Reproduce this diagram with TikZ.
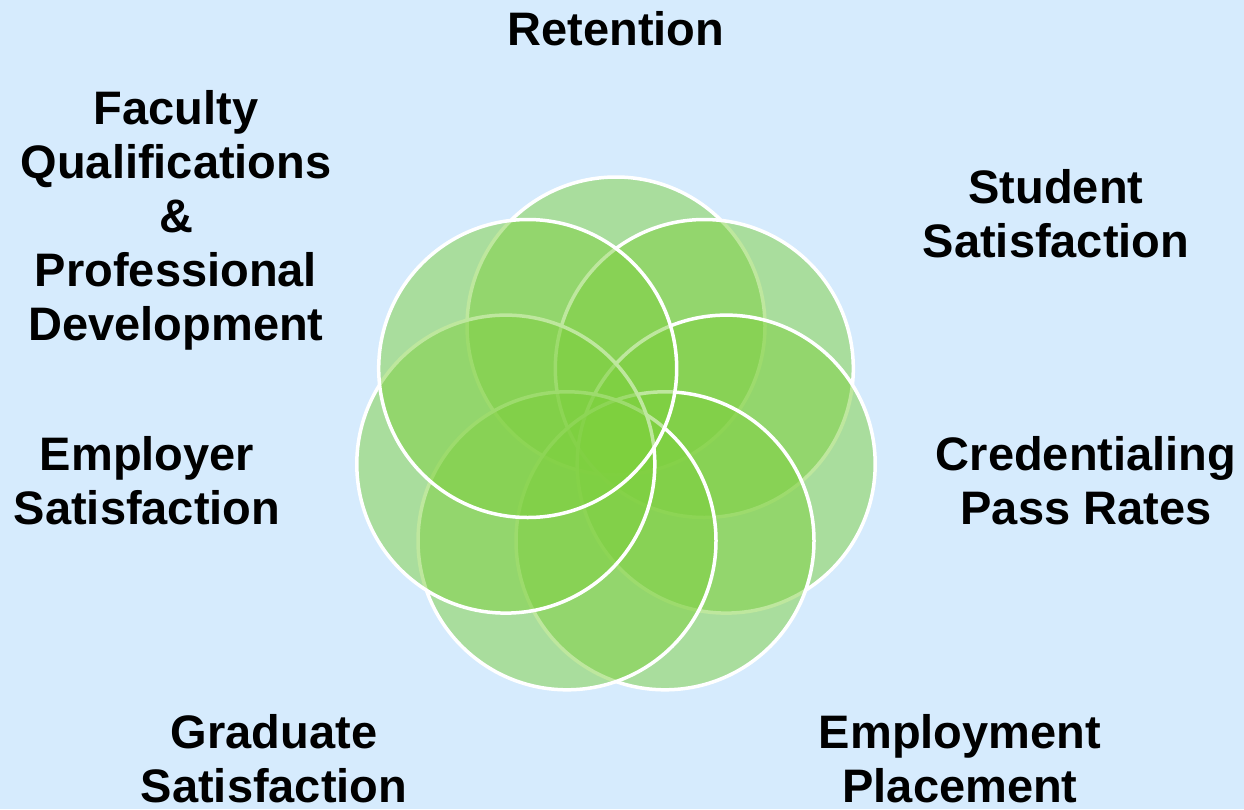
\documentclass[tikz,border=0pt]{standalone}
\usepackage{fontspec}
\setmainfont{Liberation Sans}
\usepackage{tikz}
\usetikzlibrary{positioning,shapes.geometric}

\definecolor{bgblue}{RGB}{214,235,253}
\definecolor{petalgreen}{RGB}{126,208,62}

\begin{document}
\begin{tikzpicture}[
    x=1pt, y=-1pt,
    font=\bfseries\fontsize{47}{54}\selectfont,
    petal/.style={
		circle,
		draw=white,
		line width=3.5pt,
		fill=petalgreen,
		fill opacity=0.5,
		draw opacity=1,
		inner sep=0pt,
		minimum size=298pt
	},
	caption/.style={
		align=center,
		inner sep=0pt,
		text=black
	}
  ]
    % background and frame of the page
  \useasboundingbox (0,0) rectangle (1244,809);
  \fill [bgblue] (0,0) rectangle (1244,809);

    % the seven petals, clockwise from the top
  \coordinate (hub) at (616,439);
  \node [petal] (retention) at (616,326) {};
  \node [petal] (student) at (704.3,368.5) {};
  \node [petal] (credential) at (726.2,464.1) {};
  \node [petal] (placement) at (665,540.8) {};
  \node [petal] (graduate) at (567,540.8) {};
  \node [petal] (employer) at (505.8,464.1) {};
  \node [petal] (faculty) at (527.7,368.5) {};

    % the labels round the flower
  \node [caption] (retentionlbl) at (616,29) {Retention};
  \node [caption] (studentlbl) at (1056,214) {Student\\Satisfaction};
  \node [caption] (credentiallbl) at (1086,480.5) {Credentialing\\Pass Rates};
  \node [caption] (placementlbl) at (960,759) {Employment\\Placement};
  \node [caption] (graduatelbl) at (274,759) {Graduate\\Satisfaction};
  \node [caption] (employerlbl) at (147,480.5) {Employer\\Satisfaction};
  \node [caption] (facultylbl) at (176,220) {Faculty\\Qualifications\\\&\\Professional\\Development};

\end{tikzpicture}
\end{document}
